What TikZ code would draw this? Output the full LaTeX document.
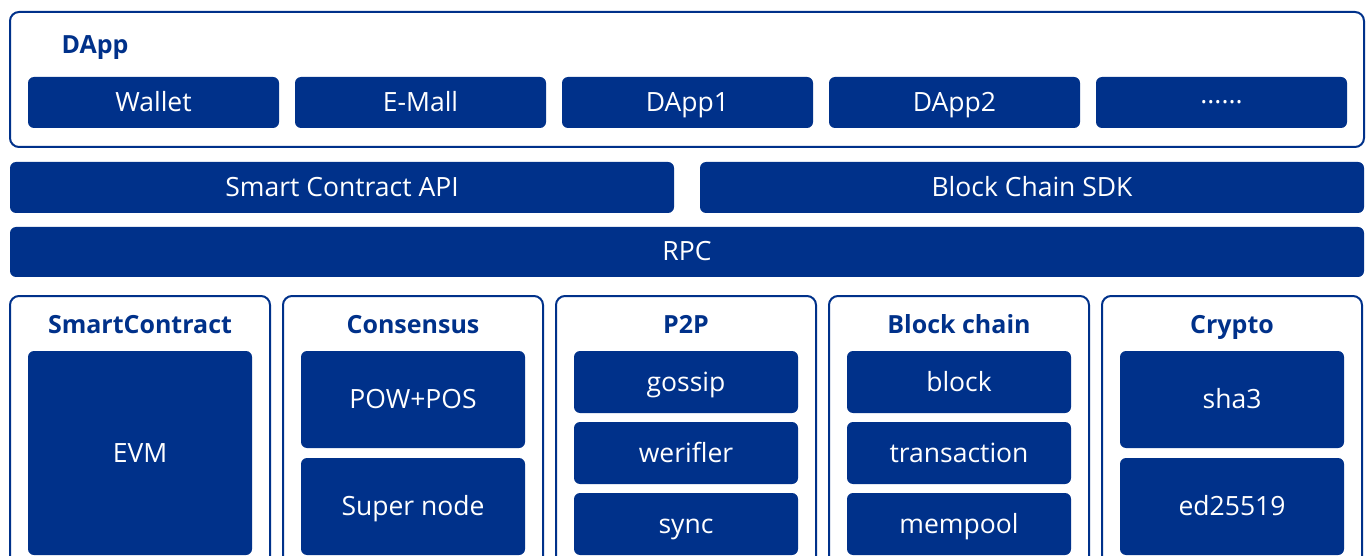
\documentclass[tikz,border=0pt]{standalone}
\usepackage{fontspec}
\setmainfont{Open Sans}
\usepackage{tikz}
\usetikzlibrary{positioning}
\definecolor{navy}{HTML}{00318A}

\begin{document}
\begin{tikzpicture}[x=1pt,y=-1pt,
  font=\fontsize{26.5}{30}\selectfont,
  blk/.style={fill=navy,text=white,rounded corners=6pt,inner sep=0pt,text height=18pt,text depth=0pt},
  grp/.style={draw=navy,line width=2pt,fill=white,rounded corners=9pt,inner sep=0pt},
  ttl/.style={text=navy,font=\fontsize{25}{30}\selectfont\bfseries,inner sep=0pt,text height=18pt,text depth=0pt},
]
\useasboundingbox (0,0) rectangle (1366,556);
\clip (0,0) rectangle (1366,556);
% application layer
\node[grp,minimum width=1354pt,minimum height=135pt] (dapp) at (687,79.5) {};
\node[ttl] (dappT) at (95,45) {DApp};
\foreach \i/\lab [evaluate=\i as \cx using 153.5+267*\i] in {0/Wallet,1/E-Mall,2/DApp1,3/DApp2,4/······}{
  \node[blk,minimum width=251pt,minimum height=51pt] (app\i) at (\cx,102.5) {\lab};
}
% interface layers
\node[blk,minimum width=664pt,minimum height=51pt] (api) at (342,187.5) {Smart Contract API};
\node[blk,minimum width=664pt,minimum height=51pt] (sdk) at (1032,187.5) {Block Chain SDK};
\node[blk,minimum width=1354pt,minimum height=50pt] (rpc) at (687,252) {RPC};
% core modules
\foreach \k/\lab [evaluate=\k as \cx using 140+273*\k] in {0/SmartContract,1/Consensus,2/P2P,3/Block chain,4/Crypto}{
  \node[grp,minimum width=260pt,minimum height=320pt,anchor=north] (col\k) at (\cx,295) {};
  \node[ttl] (colT\k) at (\cx,325) {\lab};
}
\node[blk,minimum width=224pt,minimum height=204pt] (evm) at (140,453) {EVM};
\foreach \k/\a/\b [evaluate=\k as \cx using 140+273*\k] in {1/POW+POS/Super node,4/sha3/ed25519}{
  \node[blk,minimum width=224pt,minimum height=97pt] (up\k) at (\cx,399.5) {\a};
  \node[blk,minimum width=224pt,minimum height=97pt] (lo\k) at (\cx,506.5) {\b};
}
\foreach \k/\a/\b/\c [evaluate=\k as \cx using 140+273*\k] in {2/gossip/werifler/sync,3/block/transaction/mempool}{
  \node[blk,minimum width=224pt,minimum height=62pt] (up\k) at (\cx,382) {\a};
  \node[blk,minimum width=224pt,minimum height=62pt] (mid\k) at (\cx,453) {\b};
  \node[blk,minimum width=224pt,minimum height=62pt] (lo\k) at (\cx,524) {\c};
}
\end{tikzpicture}
\end{document}
